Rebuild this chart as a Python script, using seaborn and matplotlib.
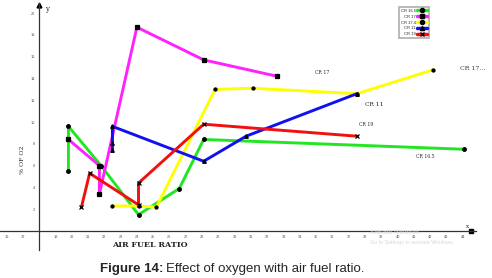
import matplotlib
matplotlib.use('Agg')
import matplotlib.pyplot as plt
from matplotlib.lines import Line2D
import seaborn as sns

# air fuel ratio (x) and % of O2 (y) for each compression ratio
cr165_x = [19.8, 19.8, 21.8, 24.1, 26.6, 28.1, 44.1]
cr165_y = [5.5, 9.6, 6.0, 1.5, 3.9, 8.4, 7.5]

cr17_x = [19.8, 21.7, 21.7, 24.0, 28.1, 32.6]
cr17_y = [8.4, 6.0, 3.4, 18.7, 15.7, 14.2]

cr174_x = [22.5, 24.1, 25.2, 28.8, 31.1, 37.5, 42.2]
cr174_y = [2.3, 2.3, 2.2, 13.0, 13.1, 12.6, 14.8]

cr11_x = [22.5, 22.5, 22.5, 28.1, 30.7, 37.5]
cr11_y = [7.4, 8.1, 9.6, 6.4, 8.7, 12.6]

cr19_x = [20.6, 21.1, 24.1, 24.1, 28.1, 37.5]
cr19_y = [2.2, 5.3, 2.4, 4.4, 9.8, 8.7]

names = ['CR 16.5', 'CR 17', 'CR 17.4', 'CR 11', 'CR 19']
colors = ['#22e622', '#ff22ff', '#ffff00', '#1010f0', '#f01010']
markers = ['o', 's', 'o', '^', 'x']
msizes = [2.6, 3.2, 2.2, 2.6, 2.8]
series = [(cr165_x, cr165_y), (cr17_x, cr17_y), (cr174_x, cr174_y),
          (cr11_x, cr11_y), (cr19_x, cr19_y)]

x_ticks = [16, 17] + list(range(19, 45))
y_ticks = list(range(2, 21, 2))

sns.set_style('white')
plt.rcParams['font.family'] = ['Liberation Sans', 'DejaVu Sans']

fig = plt.figure(figsize=(4.92, 2.78), dpi=100)
W, H = 492, 278
# axes placed in pixel terms: x pixels 0..476, y pixels 3..250
ax = fig.add_axes([0, (H - 250) / H, 476 / W, 247 / H])

handles = []
for (xs, ys), name, c, m, ms in zip(series, names, colors, markers, msizes):
    sns.lineplot(x=xs, y=ys, sort=False, estimator=None, color=c, lw=2.1,
                 marker=m, markersize=ms, markerfacecolor='black',
                 markeredgecolor='black', mew=0.9, ax=ax)
    handles.append(Line2D([], [], color=c, lw=2.5, marker=m, markersize=3,
                          markerfacecolor='black', markeredgecolor='black'))

ax.set_xlim(15.6, 44.81)
ax.set_ylim(-1.74, 20.92)

# math style axes crossing at (18, 0)
ax.spines['left'].set_position(('data', 18))
ax.spines['bottom'].set_position(('data', 0))
ax.spines['top'].set_visible(False)
ax.spines['right'].set_visible(False)
for s in ['left', 'bottom']:
    ax.spines[s].set_color('#333333')
    ax.spines[s].set_linewidth(0.9)

ax.set_xticks(x_ticks)
ax.set_xticklabels([str(t) for t in x_ticks])
ax.set_yticks(y_ticks)
ax.set_yticklabels([str(t) for t in y_ticks])
ax.tick_params(direction='inout', length=4, width=0.6, labelsize=2.8,
               labelcolor='#555555', pad=0.8)
ax.set_xlabel('')
ax.set_ylabel('')

# arrow heads / end markers
ax.plot(18, 20.75, marker='^', color='black', markersize=3.5, clip_on=False)
ax.plot(44.5, 0, marker='s', color='black', markersize=3.5, clip_on=False)
ax.text(18.35, 20.4, 'y', fontsize=5, family='DejaVu Serif', va='center')
ax.text(44.2, 0.45, 'x', fontsize=4, family='DejaVu Serif', va='center')

# curve labels
lab = dict(fontsize=3.3, family='DejaVu Serif', color='#222222')
ax.text(34.9, 14.4, 'CR 17', **lab)
ax.text(43.8, 14.8, 'CR 17...', fontsize=4.5, family='DejaVu Serif', color='#333333')
ax.text(38.0, 11.5, 'CR 11', fontsize=4.2, family='DejaVu Serif', color='#222222')
ax.text(37.6, 9.6, 'CR 19', **lab)
ax.text(41.1, 6.7, 'CR 16.5', **lab)

ax.text(22.5, -1.3, 'AIR FUEL RATIO', fontsize=5.8, fontweight='bold',
        family='DejaVu Serif', va='center')
ax.text(17.0, 6.5, '% OF O2', fontsize=4.5, family='DejaVu Serif',
        rotation=90, ha='center', va='center')

# faint watermark
ax.text(38.3, -0.3, 'Activate Windows', fontsize=4.5, color='#d8d8d8')
ax.text(38.3, -1.15, 'Go to Settings to activate Windows.', fontsize=3.8, color='#d8d8d8')

leg = fig.legend(handles, names, loc='upper left',
                 bbox_to_anchor=(397 / W, 1 - 5 / H), fontsize=3,
                 markerfirst=False, handlelength=2.6, frameon=True,
                 borderpad=0.4, labelspacing=0.45, handletextpad=0.2,
                 fancybox=False, edgecolor='#999999')
leg.get_frame().set_linewidth(1.2)

# caption: bold prefix followed by normal text
fig.canvas.draw()
r = fig.canvas.get_renderer()
t1 = fig.text(100 / W, 1 - 269 / H, 'Figure 14:', fontsize=9.5,
              fontweight='bold', va='center', ha='left')
bb = t1.get_window_extent(renderer=r)
fig.text((bb.x1 + 3) / W, 1 - 269 / H, 'Effect of oxygen with air fuel ratio.',
         fontsize=9.5, va='center', ha='left')

fig.savefig('out.png', dpi=100)
